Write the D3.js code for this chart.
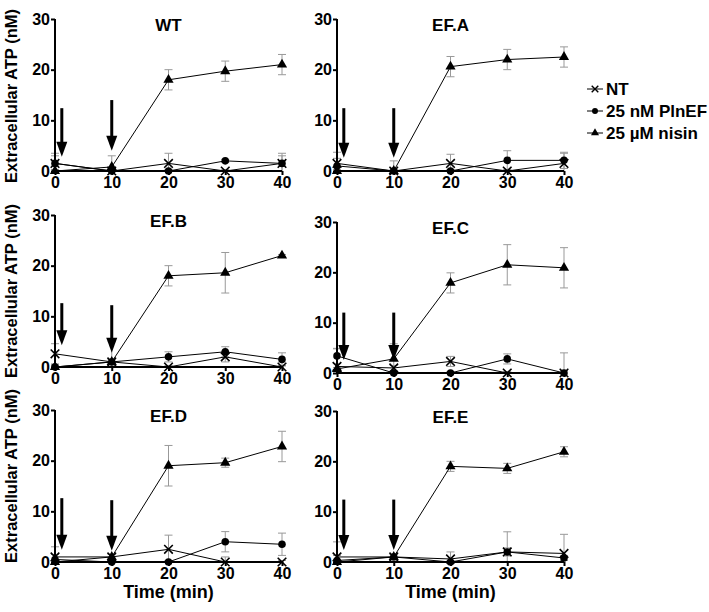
<!DOCTYPE html>
<html><head><meta charset="utf-8">
<script src="https://cdn.jsdelivr.net/npm/d3@7"></script>
<style>body{margin:0;background:#fff}svg{display:block}text{font-family:"Liberation Sans",Arial,sans-serif;font-weight:bold}</style>
</head><body><svg id="c" width="709" height="612"></svg>
<script>
const times = [0, 10, 20, 30, 40];
const panelNames = ["WT", "EF.A", "EF.B", "EF.C", "EF.D", "EF.E"];
const yTicks = [0, 10, 20, 30];
const seriesNames = ["NT", "25 nM PlnEF", "25 \u00b5M nisin"];

const ntValues = [
  [1.5, 0, 1.5, 0, 1.5],
  [1.5, 0, 1.5, 0, 1.5],
  [2.6, 1, 0, 2, 0],
  [1.3, 1, 2.3, 0, 0],
  [1, 1, 2.5, 0, 0],
  [1, 1, 0.6, 2, 1.7]
];
const ntErrors = [
  [2, 0.5, 2, 0.3, 2],
  [2.2, 0.5, 1.8, 0.3, 2],
  [2, 0.5, 0.3, 1, 0.3],
  [3.5, 0.5, 1, 0.3, 4],
  [2, 0.5, 2.8, 1, 0.3],
  [3, 0.5, 1.4, 4, 3.8]
];
const plnefValues = [
  [1.5, 0, 0, 2, 1.5],
  [1, 0, 0, 2.1, 2.1],
  [0, 1, 2, 3, 1.5],
  [3.4, 0, 0, 2.8, 0],
  [0.5, 0, 0, 4, 3.5],
  [0.3, 1, 0, 2, 0.8]
];
const plnefErrors = [
  [1.5, 0.3, 0.3, 0.3, 1.5],
  [1.5, 0.3, 0.3, 1.9, 1.6],
  [0.5, 0.5, 1, 1, 1.3],
  [1.5, 0.3, 0.3, 1, 0.5],
  [1, 0.3, 0.3, 2, 2.2],
  [1, 0.5, 0.3, 0.8, 0.5]
];
const nisinValues = [
  [0, 0.8, 18, 19.7, 21],
  [0, 0, 20.6, 22, 22.5],
  [0, 1, 18, 18.6, 22],
  [0.8, 2.8, 17.9, 21.5, 20.9],
  [0, 1, 19, 19.6, 22.8],
  [0, 1, 19, 18.6, 21.9]
];
const nisinErrors = [
  [0.3, 2.2, 2, 2, 2],
  [0.3, 2, 2, 2, 2],
  [0.3, 4, 2, 4, 0.2],
  [0.3, 3, 2, 4, 4],
  [0.3, 0.5, 4, 0.9, 3],
  [0.3, 0.5, 1, 1, 1]
];
// arrows (additions): time, top value, tip value
const arrowTimes = [1.2, 10];
const arrowTops = [[12.4, 14], [12.4, 12.4], [12.6, 12.2], [12, 12], [12.6, 12.2], [12.4, 12.4]];
const arrowTips = [[2.8, 4], [2.6, 2.6], [4.3, 2.8], [2.6, 2.6], [2.4, 2.2], [2.4, 2.4]];

const svg = d3.select("#c");
// panel frames: [x at t=0, x at t=40, y at 0, y at 30]
const frames = [
  [55, 282, 171, 19], [337, 564, 171, 19],
  [55, 282, 367, 215], [337, 564, 373, 222],
  [55, 282, 562, 410], [337, 564, 562, 411]
];

const symbols = [d3.symbolTimes, d3.symbolCircle, d3.symbolTriangle];
const symSizes = [50, 45, 45];
const FONT = '"Liberation Sans",Arial,sans-serif';

panelNames.forEach((name, i) => {
  const f = frames[i];
  const x = d3.scaleLinear().domain([0, 40]).range([f[0], f[1]]);
  const y = d3.scaleLinear().domain([0, 30]).range([f[2], f[3]]);
  const g = svg.append("g");

  const series = [
    {v: ntValues[i], e: ntErrors[i]},
    {v: plnefValues[i], e: plnefErrors[i]},
    {v: nisinValues[i], e: nisinErrors[i]}
  ];

  // error bars
  series.forEach(s => {
    times.forEach((t, k) => {
      const lo = Math.max(0, s.v[k] - s.e[k]), hi = s.v[k] + s.e[k];
      const eg = g.append("g").attr("stroke", "#999").attr("stroke-width", 1);
      eg.append("line").attr("x1", x(t)).attr("x2", x(t)).attr("y1", y(lo)).attr("y2", y(hi));
      eg.append("line").attr("x1", x(t) - 4).attr("x2", x(t) + 4).attr("y1", y(hi)).attr("y2", y(hi));
      if (s.v[k] - s.e[k] > 0)
        eg.append("line").attr("x1", x(t) - 4).attr("x2", x(t) + 4).attr("y1", y(lo)).attr("y2", y(lo));
    });
  });

  // axes
  const yAxis = d3.axisLeft(y).tickValues(yTicks).tickSize(4).tickPadding(1).tickFormat(d3.format("d"));
  const ya = g.append("g").attr("transform", `translate(${f[0]},0)`).call(yAxis);
  const xAxis = d3.axisBottom(x).tickValues(times).tickSize(4).tickPadding(2).tickFormat(d3.format("d"));
  const xa = g.append("g").attr("transform", `translate(0,${f[2]})`).call(xAxis);
  [ya, xa].forEach(a => {
    a.select(".domain").attr("stroke", "#000").attr("stroke-width", 2);
    a.selectAll(".tick line").attr("stroke", "#000").attr("stroke-width", 2);
    a.selectAll(".tick text").attr("fill", "#000").style("font-size", "16px").style("font-weight", "bold")
      .style("font-family", FONT);
  });
  ya.select(".domain").attr("d", `M0,${f[2]}V${f[3]}`);
  xa.select(".domain").attr("d", `M${f[0]},0H${f[1]}`);

  // lines
  const line = d3.line().x((d, k) => x(times[k])).y(d => y(d));
  series.forEach(s => {
    g.append("path").attr("d", line(s.v)).attr("fill", "none").attr("stroke", "#000").attr("stroke-width", 1);
  });

  // markers
  series.forEach((s, si) => {
    const sym = d3.symbol().type(symbols[si]).size(symSizes[si]);
    s.v.forEach((v, k) => {
      const p = g.append("path").attr("d", sym()).attr("transform", `translate(${x(times[k])},${y(v)})`);
      if (si === 0) p.attr("fill", "none").attr("stroke", "#000").attr("stroke-width", 1.6);
      else p.attr("fill", "#000");
    });
  });

  // arrows
  arrowTimes.forEach((t, a) => {
    const ax = x(t), yTop = y(arrowTops[i][a]), yTip = y(arrowTips[i][a]);
    const headH = 15, headW = 5.5;
    g.append("line").attr("x1", ax).attr("x2", ax).attr("y1", yTop).attr("y2", yTip - headH + 1)
      .attr("stroke", "#000").attr("stroke-width", 3);
    g.append("path").attr("d", `M${ax - headW},${yTip - headH}L${ax + headW},${yTip - headH}L${ax},${yTip}Z`).attr("fill", "#000");
  });

  // title
  g.append("text").attr("x", x(20)).attr("y", y(30) + 12).attr("text-anchor", "middle")
    .style("font-size", "17px").text(name);
});

// y axis titles
[[0, 96], [2, 291], [4, 476]].forEach(([a, cy]) => {
  svg.append("text").attr("transform", `translate(16.5,${cy}) rotate(-90)`).attr("text-anchor", "middle")
    .style("font-size", "16.5px").text("Extracellular ATP (nM)");
});
// x axis titles
[4, 5].forEach(a => {
  const f = frames[a];
  svg.append("text").attr("x", (f[0] + f[1]) / 2).attr("y", 598).attr("text-anchor", "middle")
    .style("font-size", "18px").text("Time (min)");
});

// legend
const lg = svg.append("g");
seriesNames.forEach((n, si) => {
  const ly = 89 + si * 22;
  lg.append("line").attr("x1", 587).attr("x2", 603).attr("y1", ly).attr("y2", ly).attr("stroke", "#000").attr("stroke-width", 1);
  const p = lg.append("path").attr("d", d3.symbol().type(symbols[si]).size(si === 0 ? 30 : 28)()).attr("transform", `translate(595,${ly})`);
  if (si === 0) p.attr("fill", "none").attr("stroke", "#000").attr("stroke-width", 1.4); else p.attr("fill", "#000");
  lg.append("text").attr("x", 606).attr("y", ly + 6).style("font-size", "17px").text(n);
});
</script></body></html>
